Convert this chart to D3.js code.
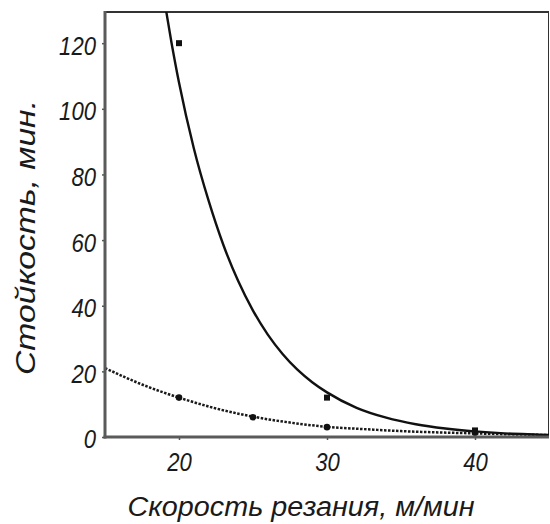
<!DOCTYPE html>
<html>
<head>
<meta charset="utf-8">
<script src="https://cdn.jsdelivr.net/npm/d3@7"></script>
<style>
  html, body { margin: 0; padding: 0; background: #fff; }
  svg { display: block; }
  text { font-family: "Liberation Sans", Arial, sans-serif; font-style: italic; fill: #1a1a1a; }
</style>
</head>
<body>
<svg id="chart" width="550" height="524"></svg>
<script>
// Tool life vs cutting speed
const xTicks = [20, 30, 40];
const yTicks = [0, 20, 40, 60, 80, 100, 120];

// Measured points, first tool (squares)
const squareSpeed = [20, 30, 40];
const squareLife  = [120, 12, 2];

// Measured points, second tool (circles)
const circleSpeed = [20, 25, 30, 40];
const circleLife  = [12, 6, 3, 1.3];

// Trend curve for the squares (solid)
const solidSpeed = [18.9, 19.5, 20, 21, 22, 23, 24, 25, 26, 27, 28, 29, 30, 32, 34, 36, 38, 40, 42, 44, 45];
const solidLife  = [136, 120, 108, 88, 72, 58.5, 47.5, 38.5, 31.2, 25.3, 20.5, 16.7, 13.6, 8.9, 5.9, 3.9, 2.6, 1.7, 1.1, 0.75, 0.6];

// Trend curve for the circles (dotted)
const dotSpeed = [15, 17.5, 20, 22.5, 25, 27.5, 30, 32.5, 35, 37.5, 40, 42.5, 45];
const dotLife  = [21, 16, 12, 8.7, 6.2, 4.4, 3.1, 2.4, 1.8, 1.4, 1.1, 0.8, 0.6];

const svg = d3.select("#chart");
const margin = { left: 105, right: 1, top: 12, bottom: 87 };
const W = 550, H = 524;

const x = d3.scaleLinear().domain([15, 45]).range([margin.left, W - margin.right]);
const y = d3.scaleLinear().domain([0, 129.5]).range([H - margin.bottom, margin.top]);

// squeeze text horizontally to a narrower face
function narrow(sel, k) {
  sel.each(function () {
    const w = this.getComputedTextLength();
    d3.select(this).attr("textLength", w * k).attr("lengthAdjust", "spacingAndGlyphs");
  });
}

const defs = svg.append("defs");
defs.append("clipPath").attr("id", "plot")
  .append("rect")
  .attr("x", x(15)).attr("y", y(129.5))
  .attr("width", x(45) - x(15)).attr("height", y(0) - y(129.5));

// frame: top and right edges
svg.append("line")
  .attr("x1", x(15)).attr("x2", x(45))
  .attr("y1", y(129.5)).attr("y2", y(129.5))
  .attr("stroke", "#333").attr("stroke-width", 2);
svg.append("line")
  .attr("x1", x(45) - 0.5).attr("x2", x(45) - 0.5)
  .attr("y1", y(129.5)).attr("y2", y(0))
  .attr("stroke", "#333").attr("stroke-width", 1);

const plot = svg.append("g").attr("clip-path", "url(#plot)");

const line = d3.line()
  .x(d => x(d[0]))
  .y(d => y(d[1]))
  .curve(d3.curveMonotoneX);

plot.append("path")
  .datum(dotSpeed.map((v, i) => [v, dotLife[i]]))
  .attr("d", line)
  .attr("fill", "none")
  .attr("stroke", "#1a1a1a")
  .attr("stroke-width", 2.5)
  .attr("stroke-dasharray", "2.5,1.5");

plot.append("path")
  .datum(solidSpeed.map((v, i) => [v, solidLife[i]]))
  .attr("d", line)
  .attr("fill", "none")
  .attr("stroke", "#111")
  .attr("stroke-width", 2.4);

// markers
plot.selectAll("circle.pt")
  .data(circleSpeed.map((v, i) => [v, circleLife[i]]))
  .join("circle")
  .attr("class", "pt")
  .attr("cx", d => x(d[0]))
  .attr("cy", d => y(d[1]))
  .attr("r", 3.3)
  .attr("fill", "#111");

plot.selectAll("rect.pt")
  .data(squareSpeed.map((v, i) => [v, squareLife[i]]))
  .join("rect")
  .attr("class", "pt")
  .attr("x", d => x(d[0]) - 3)
  .attr("y", d => y(d[1]) - 3)
  .attr("width", 6)
  .attr("height", 6)
  .attr("fill", "#111");

// axes
const xAxis = d3.axisBottom(x).tickValues(xTicks).tickSize(3).tickFormat(d3.format("d"));
const yAxis = d3.axisLeft(y).tickValues(yTicks).tickSize(3).tickFormat(d3.format("d"));

const gx = svg.append("g").attr("transform", `translate(0,${y(0)})`).call(xAxis);
const gy = svg.append("g").attr("transform", `translate(${x(15)},0)`).call(yAxis);

[gx, gy].forEach(g => {
  g.select(".domain").remove();
  g.selectAll(".tick line").attr("stroke", "#555").attr("stroke-width", 1.5);
  g.selectAll(".tick text")
    .attr("font-size", 26)
    .attr("fill", "#1a1a1a")
    .style("font-family", "'Liberation Sans', Arial, sans-serif")
    .style("font-style", "italic");
});
gx.selectAll(".tick text").attr("y", 34).attr("dy", 0);
gy.selectAll(".tick text").attr("x", -9).attr("dy", "0.42em");
narrow(gx.selectAll(".tick text"), 0.85);
narrow(gy.selectAll(".tick text"), 0.85);

// axis lines (drawn over the plot)
svg.append("line")
  .attr("x1", x(15)).attr("x2", x(15))
  .attr("y1", y(129.5) - 1).attr("y2", y(0) + 1.5)
  .attr("stroke", "#5a5a5a").attr("stroke-width", 3);
svg.append("line")
  .attr("x1", x(15) - 1.5).attr("x2", x(45))
  .attr("y1", y(0)).attr("y2", y(0))
  .attr("stroke", "#5a5a5a").attr("stroke-width", 3);

// axis titles
svg.append("text")
  .attr("x", 301)
  .attr("y", 516)
  .attr("text-anchor", "middle")
  .attr("font-size", 27)
  .attr("textLength", 347)
  .attr("lengthAdjust", "spacingAndGlyphs")
  .text("Скорость резания, м/мин");

svg.append("text")
  .attr("transform", "translate(35,237.5) rotate(-90)")
  .attr("text-anchor", "middle")
  .attr("font-size", 27)
  .attr("textLength", 275)
  .attr("lengthAdjust", "spacingAndGlyphs")
  .text("Стойкость, мин.");
</script>
</body>
</html>
